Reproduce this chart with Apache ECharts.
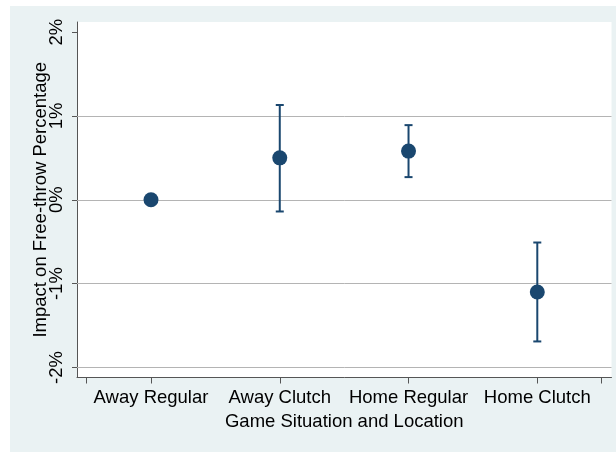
<!DOCTYPE html>
<html>
<head>
<meta charset="utf-8">
<script src="https://cdn.jsdelivr.net/npm/echarts@6/dist/echarts.min.js"></script>
<style>
  html, body { margin: 0; padding: 0; background: #ffffff; }
  #chart { position: absolute; left: 10px; top: 6px; width: 606px; height: 446px; }
</style>
</head>
<body>
<div id="chart"></div>
<script>
// ---- data ----
var categories = ['Away Regular', 'Away Clutch', 'Home Regular', 'Home Clutch'];
var categoryPositions = [1, 2, 3, 4];
var estimates = [0, 0.50, 0.58, -1.10];
var lowerBounds = [null, -0.14, 0.27, -1.69];
var upperBounds = [null, 1.13, 0.89, -0.51];
var yTickValues = [-2, -1, 0, 1, 2];
var yGridValues = [-2, -1, 0, 1];
var xTickValues = [0.5, 1, 2, 3, 4, 4.5];

// ---- styles ----
var navy = '#1a476f';
var axisColor = '#555555';
var gridColor = '#b4b4b4';
var fontFamily = "'Liberation Sans', Arial, sans-serif";

var pointData = categoryPositions.map(function (x, i) { return [x, estimates[i]]; });
var barData = [];
categoryPositions.forEach(function (x, i) {
  if (lowerBounds[i] != null && upperBounds[i] != null) {
    barData.push([x, lowerBounds[i], upperBounds[i]]);
  }
});

var chart = echarts.init(document.getElementById('chart'), null, { renderer: 'canvas' });

chart.setOption({
  backgroundColor: '#eaf2f3',
  animation: false,
  textStyle: { fontFamily: fontFamily },
  grid: {
    left: 67, right: 4.5, top: 16, bottom: 74.5,
    show: true, backgroundColor: '#ffffff', borderWidth: 0
  },
  xAxis: {
    type: 'value',
    min: 0.4253, max: 4.5763,
    name: 'Game Situation and Location',
    nameLocation: 'middle',
    nameGap: 35,
    nameMoveOverlap: false,
    nameTextStyle: { fontSize: 18.5, color: '#000', fontFamily: fontFamily },
    axisLine: { show: true, onZero: false, lineStyle: { color: axisColor, width: 1 } },
    axisTick: { show: true, length: 6, customValues: xTickValues, lineStyle: { color: axisColor, width: 1 } },
    axisLabel: {
      customValues: categoryPositions,
      margin: 11,
      fontSize: 18.5,
      color: '#000',
      fontFamily: fontFamily,
      formatter: function (v) {
        var idx = categoryPositions.indexOf(Math.round(v * 1000) / 1000);
        return idx >= 0 ? categories[idx] : '';
      }
    },
    splitLine: { show: false }
  },
  yAxis: {
    type: 'value',
    min: -2.12, max: 2.12,
    name: 'Impact on Free-throw Percentage',
    nameLocation: 'middle',
    nameRotate: 90,
    nameGap: 27,
    nameMoveOverlap: false,
    nameTextStyle: { fontSize: 18.5, color: '#000', fontFamily: fontFamily },
    axisLine: { show: true, onZero: false, lineStyle: { color: axisColor, width: 1 } },
    axisTick: { show: true, length: 5, customValues: yTickValues, lineStyle: { color: axisColor, width: 1 } },
    axisLabel: {
      customValues: yTickValues,
      rotate: 90,
      margin: 11,
      fontSize: 18.5,
      color: '#000',
      fontFamily: fontFamily,
      formatter: function (v) { return Math.round(v) + '%'; }
    },
    splitLine: { show: false }
  },
  series: [
    {
      type: 'custom',
      name: 'ci',
      data: barData,
      z: 3,
      renderItem: function (params, api) {
        var x = api.value(0);
        var lo = api.coord([x, api.value(1)]);
        var hi = api.coord([x, api.value(2)]);
        var cap = 4;
        var style = { stroke: navy, lineWidth: 2 };
        return {
          type: 'group',
          children: [
            { type: 'line', shape: { x1: lo[0], y1: lo[1], x2: hi[0], y2: hi[1] }, style: style },
            { type: 'line', shape: { x1: lo[0] - cap, y1: lo[1], x2: lo[0] + cap, y2: lo[1] }, style: style },
            { type: 'line', shape: { x1: hi[0] - cap, y1: hi[1], x2: hi[0] + cap, y2: hi[1] }, style: style }
          ]
        };
      }
    },
    {
      type: 'scatter',
      name: 'estimate',
      data: pointData,
      symbol: 'circle',
      symbolSize: 15,
      z: 4,
      itemStyle: { color: navy, opacity: 1 },
      markLine: {
        silent: true,
        symbol: ['none', 'none'],
        label: { show: false },
        z: 1,
        lineStyle: { color: gridColor, width: 1, type: 'solid' },
        data: yGridValues.map(function (v) { return { yAxis: v }; })
      }
    }
  ]
});
</script>
</body>
</html>
